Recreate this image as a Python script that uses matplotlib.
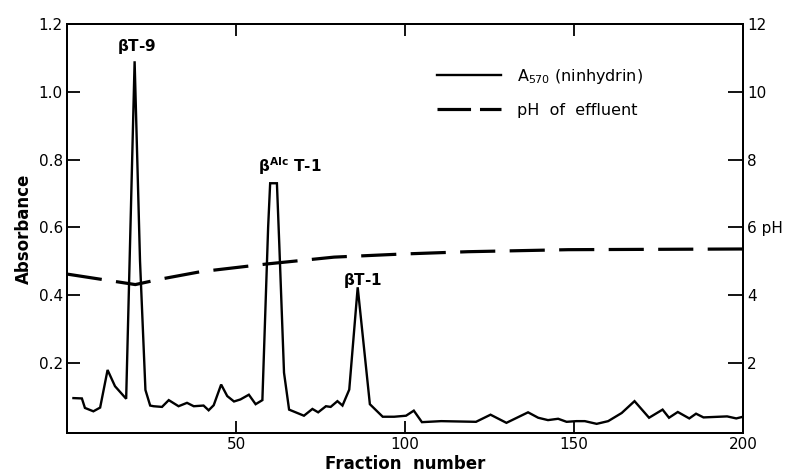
import numpy as np
import matplotlib.pyplot as plt
from matplotlib.lines import Line2D

plt.rcParams['font.family'] = ['DejaVu Sans']
plt.rcParams['mathtext.default'] = 'regular'

# A570 (ninhydrin) trace
fraction = [1.9, 4.4, 5.3, 7.8, 9.8, 12.0, 14.2, 17.5, 20.0, 21.6, 23.2, 24.6,
            25.6, 28.1, 30.1, 33.0, 35.5, 37.5, 40.4, 41.9, 43.4, 45.6, 47.4,
            49.4, 51.3, 53.8, 55.8, 57.8, 59.5, 60.1, 62.1, 62.8, 64.2, 65.7,
            70.1, 72.6, 74.3, 76.6, 78.0, 80.0, 81.5, 83.5, 86.0, 89.6, 93.4,
            96.8, 100.3, 102.6, 105.0, 110.7, 121.0, 125.3, 130.0, 136.4,
            139.4, 142.3, 145.3, 147.8, 150.7, 153.2, 156.7, 160.1, 164.1,
            167.9, 172.2, 176.2, 178.1, 180.7, 184.1, 186.1, 188.3, 195.3,
            198.0, 200.0]
absorbance = [0.096, 0.095, 0.067, 0.057, 0.068, 0.179, 0.131, 0.094, 1.09,
              0.50, 0.12, 0.074, 0.072, 0.070, 0.090, 0.072, 0.082, 0.072,
              0.074, 0.060, 0.075, 0.136, 0.102, 0.086, 0.092, 0.106, 0.078,
              0.090, 0.60, 0.73, 0.73, 0.55, 0.171, 0.062, 0.044, 0.064,
              0.054, 0.072, 0.070, 0.087, 0.074, 0.121, 0.423, 0.078, 0.041,
              0.041, 0.044, 0.059, 0.025, 0.028, 0.026, 0.047, 0.023, 0.054,
              0.038, 0.031, 0.035, 0.026, 0.028, 0.028, 0.020, 0.028, 0.052,
              0.087, 0.038, 0.062, 0.038, 0.055, 0.036, 0.050, 0.039, 0.042,
              0.036, 0.041]

# pH of effluent
fraction_ph = [0, 20.2, 27.6, 39.5, 59.3, 79.0, 98.8, 118.6, 148.3, 200]
ph = [4.62, 4.31, 4.47, 4.69, 4.92, 5.12, 5.21, 5.28, 5.34, 5.36]

fig = plt.figure(figsize=(7.94, 4.74), dpi=100)
ax = fig.add_axes([0.0844, 0.0865, 0.8514, 0.8629])
ax2 = ax.twinx()

ax.plot(fraction, absorbance, color='black', lw=1.7, solid_joinstyle='miter')
ax2.plot(fraction_ph, ph, color='black', lw=2.3, dashes=(11, 4.5))

ax.set_xlim(0, 200)
ax.set_ylim(-0.007, 1.2)
ax2.set_ylim(-0.07, 12)

ax.set_xticks([50, 100, 150, 200])
ax.set_xticklabels(['50', '100', '150', '200'])
ax.set_yticks([0.2, 0.4, 0.6, 0.8, 1.0, 1.2])
ax.set_yticklabels(['0.2', '0.4', '0.6', '0.8', '1.0', '1.2'])
ax2.set_yticks([2, 4, 6, 8, 10, 12])
ax2.set_yticklabels(['2', '4', '6 pH', '8', '10', '12'])

ax.tick_params(axis='x', direction='in', top=True, length=8.5, width=1.3,
               pad=3, labelsize=11)
ax.tick_params(axis='y', direction='in', length=9.5, width=1.3, pad=3,
               labelsize=11)
ax2.tick_params(axis='y', direction='in', length=10.5, width=1.3, pad=3,
                labelsize=11)

for a in (ax, ax2):
    for s in a.spines.values():
        s.set_linewidth(1.4)

ax.set_xlabel('Fraction  number', fontsize=12, fontweight='bold', labelpad=2)
ax.set_ylabel('Absorbance', fontsize=12, fontweight='bold', labelpad=4)

ax.text(20.5, 1.135, r'$\beta$T-9', fontsize=11, fontweight='bold',
        ha='center', va='center')
ax.text(66.0, 0.78, r'$\beta^{AIc}$ T-1', fontsize=11, fontweight='bold',
        ha='center', va='center')
ax.text(87.5, 0.444, r'$\beta$T-1', fontsize=11, fontweight='bold',
        ha='center', va='center')

h1 = Line2D([], [], color='black', lw=1.7)
h2 = Line2D([], [], color='black', lw=2.3, dashes=(10.5, 2.8))
ax.legend([h1, h2], [r'A$_{570}$ (ninhydrin)', 'pH  of  effluent'],
          loc='upper left', bbox_to_anchor=(0.526, 0.93), frameon=False,
          fontsize=11.5, handlelength=4.0, handletextpad=1.0,
          labelspacing=1.05)

fig.savefig('out.png', dpi=100)
